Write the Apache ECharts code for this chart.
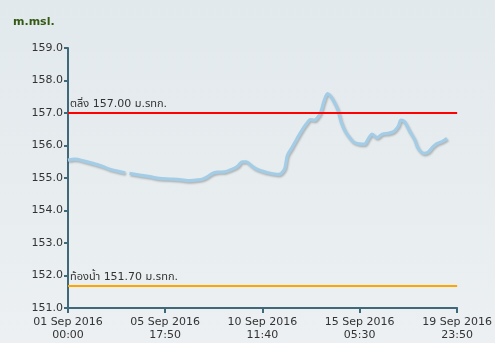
<!DOCTYPE html>
<html>
<head>
<meta charset="utf-8">
<script src="https://cdn.jsdelivr.net/npm/echarts@6/dist/echarts.min.js"></script>
<style>
html,body{margin:0;padding:0;}
body{background:linear-gradient(180deg,#e2e9ec 0%,#ecf0f2 100%);}
#c{width:495px;height:343px;}
</style>
</head>
<body>
<div id="c"></div>
<script>
// hours since 01 Sep 2016 00:00
const hours = [0,8,19,29,40,49,58,67,70,72,84,96,107,119,131,143,152,158,164,169,175,183,193,199,204,209,214,219,226,233,240,247,250,254,257,262,268,273,279,284,289,292,296,300,304,307,311,316,320,325,330,335,341,347,352,356,362,368,376,382,387,390,394,400,406,410,417,422,427,432,438,444];
const levels = [155.55,155.58,155.52,155.45,155.36,155.27,155.21,155.16,null,155.14,155.09,155.04,154.99,154.97,154.95,154.92,154.94,154.97,155.05,155.14,155.18,155.19,155.28,155.37,155.50,155.50,155.40,155.30,155.22,155.17,155.13,155.11,155.15,155.30,155.70,155.92,156.20,156.43,156.66,156.80,156.78,156.85,157.02,157.38,157.60,157.54,157.38,157.10,156.72,156.42,156.24,156.10,156.05,156.04,156.22,156.35,156.24,156.35,156.38,156.44,156.60,156.78,156.74,156.45,156.18,155.92,155.76,155.80,155.95,156.06,156.12,156.22];
const xTickHours = [0,113.8333,227.6667,341.5,455.8333];
const xTickLabels = ['01 Sep 2016\n00:00','05 Sep 2016\n17:50','10 Sep 2016\n11:40','15 Sep 2016\n05:30','19 Sep 2016\n23:50'];
const bankLevel = 157.00, bankLabel = 'ตลิ่ง 157.00 ม.รทก.';
const bedLevel = 151.70, bedLabel = 'ท้องน้ำ 151.70 ม.รทก.';
const yMin = 151, yMax = 159;

const font = '"DejaVu Sans", "Noto Sans", "Noto Sans Thai", sans-serif';
const axisColor = '#3f6878';
const chart = echarts.init(document.getElementById('c'));
const data = hours.map((h,i)=>[h, levels[i]]);
chart.setOption({
  backgroundColor: 'transparent',
  animation: false,
  title: {text:'m.msl.', left:8, top:12, textStyle:{color:'#335a14', fontSize:11, fontWeight:'bold', fontFamily:font}},
  grid: {left:68, right:37, top:48, bottom:35},
  xAxis: {
    type:'value', min:0, max:xTickHours[xTickHours.length-1],
    axisLine:{lineStyle:{color:axisColor, width:2}},
    axisTick:{customValues:xTickHours, length:5, lineStyle:{color:axisColor, width:2}},
    axisLabel:{customValues:xTickHours, color:'#333', fontSize:11, fontFamily:font, lineHeight:13,
      formatter:(v)=>{let k=0,b=1e9;xTickHours.forEach((t,i)=>{if(Math.abs(t-v)<b){b=Math.abs(t-v);k=i;}});return xTickLabels[k];}},
    splitLine:{show:false}
  },
  yAxis: {
    type:'value', min:yMin, max:yMax, interval:1,
    axisLine:{show:true, lineStyle:{color:axisColor, width:2}},
    axisTick:{show:true, length:4, lineStyle:{color:axisColor, width:2}},
    axisLabel:{color:'#333', fontSize:11, fontFamily:font, margin:5, formatter:(v)=>v.toFixed(1)},
    splitLine:{show:false}
  },
  series: [{
    type:'line', data:data, showSymbol:false, smooth:0.3, connectNulls:false,
    lineStyle:{color:'#a3cde6', width:3.2, shadowColor:'rgba(0,0,0,0.25)', shadowBlur:2, shadowOffsetX:1, shadowOffsetY:1.5},
    markLine:{
      silent:true, symbol:'none',
      data:[
        {yAxis:bankLevel, lineStyle:{color:'#ff0000', width:2, type:'solid'},
         label:{formatter:bankLabel, position:'insideStartTop', color:'#333', fontSize:11, fontFamily:font, distance:[2,3]}},
        {yAxis:bedLevel, lineStyle:{color:'#ffa500', width:2, type:'solid'},
         label:{formatter:bedLabel, position:'insideStartTop', color:'#333', fontSize:11, fontFamily:font, distance:[2,3]}}
      ]
    }
  }]
});
</script>
</body>
</html>
